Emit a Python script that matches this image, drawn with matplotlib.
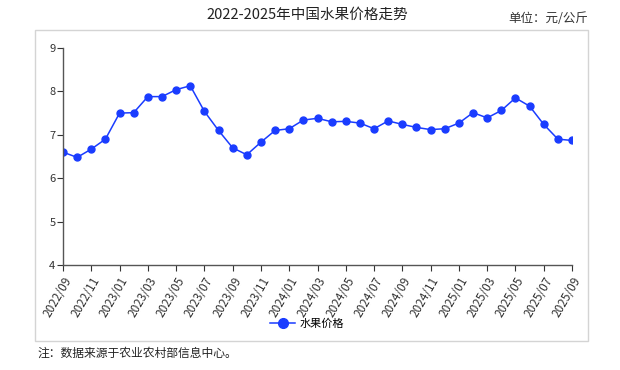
import matplotlib
matplotlib.use('Agg')
import matplotlib.pyplot as plt
from matplotlib.patches import Rectangle

plt.rcParams['font.family'] = ['Noto Sans CJK SC', 'DejaVu Sans']

months = ['2022/09', '2022/10', '2022/11', '2022/12',
          '2023/01', '2023/02', '2023/03', '2023/04', '2023/05', '2023/06',
          '2023/07', '2023/08', '2023/09', '2023/10', '2023/11', '2023/12',
          '2024/01', '2024/02', '2024/03', '2024/04', '2024/05', '2024/06',
          '2024/07', '2024/08', '2024/09', '2024/10', '2024/11', '2024/12',
          '2025/01', '2025/02', '2025/03', '2025/04', '2025/05', '2025/06',
          '2025/07', '2025/08', '2025/09']
prices = [6.60, 6.48, 6.67, 6.90,
          7.50, 7.51, 7.88, 7.88, 8.04, 8.13,
          7.54, 7.10, 6.70, 6.54, 6.83, 7.10,
          7.14, 7.34, 7.38, 7.30, 7.31, 7.27,
          7.14, 7.32, 7.24, 7.17, 7.12, 7.14,
          7.27, 7.51, 7.39, 7.56, 7.85, 7.66,
          7.24, 6.90, 6.87]
y_ticks = [4, 5, 6, 7, 8, 9]

line_color = '#1a3cff'
axis_color = '#555555'

fig = plt.figure(figsize=(6.2, 3.7), dpi=100)
ax = fig.add_axes([63 / 620, 1 - 265 / 370, (572 - 63) / 620, (265 - 48) / 370])

x = list(range(len(months)))
ax.plot(x, prices, color=line_color, lw=1.1, marker='o', markersize=5,
        label='水果价格')

ax.set_xlim(0, len(months) - 1)
ax.set_ylim(4, 9)
ax.set_yticks(y_ticks)
ax.set_xticks(x[::2])
ax.set_xticklabels(months[::2], rotation=60, ha='right', rotation_mode='anchor')
ax.tick_params(axis='both', labelsize=8, colors='#333333', length=4,
               width=0.8, pad=1.5)
ax.tick_params(axis='x', labelsize=8.5, pad=3)

for side in ['top', 'right']:
    ax.spines[side].set_visible(False)
for side in ['left', 'bottom']:
    ax.spines[side].set_color(axis_color)
    ax.spines[side].set_linewidth(1.0)

# outer frame round the chart
fig.patches.append(Rectangle((35 / 620, 1 - 341 / 370), (588 - 35) / 620, (341 - 30) / 370,
                             transform=fig.transFigure, fill=False,
                             edgecolor='#d4d4d4', lw=1.0))

fig.text(307 / 620, 1 - 15 / 370, '2022-2025年中国水果价格走势', ha='center',
         va='center', fontsize=10.5, color='#222222')
fig.text(588 / 620, 1 - 19 / 370, '单位：元/公斤', ha='right', va='center',
         fontsize=9, color='#333333')
fig.text(37 / 620, 1 - 353 / 370, '注：数据来源于农业农村部信息中心。', ha='left',
         va='center', fontsize=8.5, color='#222222')

fig.legend(loc='center', bbox_to_anchor=(307 / 620, 1 - 324 / 370), frameon=False,
           fontsize=8, handlelength=2.2, handletextpad=0.4, markerscale=1.4)

fig.savefig('out.png', dpi=100)
